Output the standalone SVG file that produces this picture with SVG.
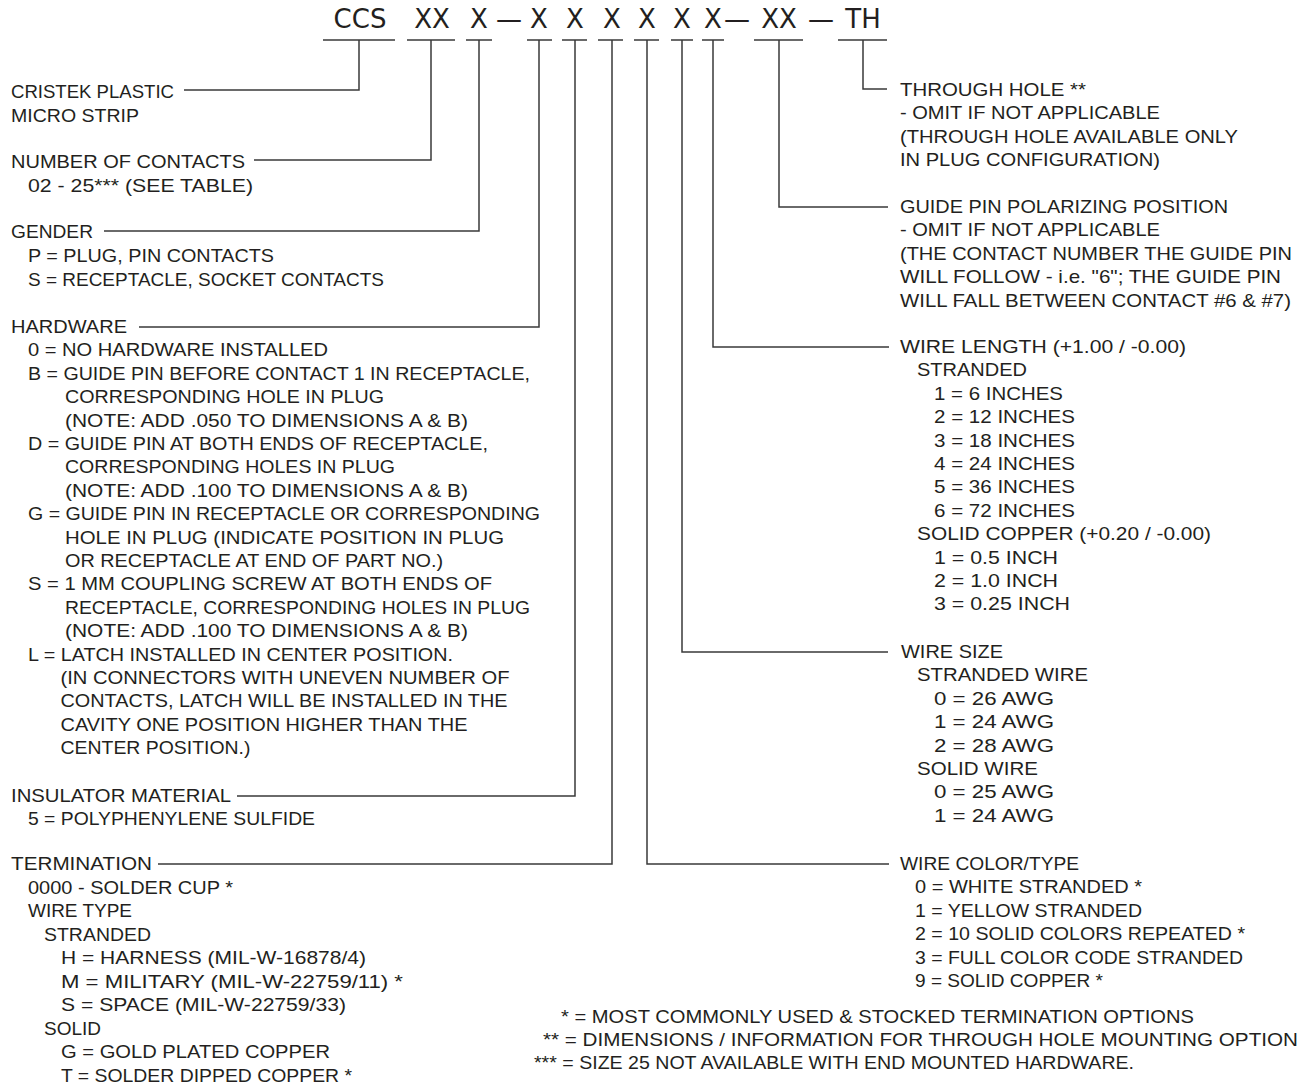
<svg xmlns="http://www.w3.org/2000/svg" width="1309" height="1087" viewBox="0 0 1309 1087">
<style>
  .t { font-family: "Liberation Sans", Arial, sans-serif; font-size: 19px; fill: #231f20; }
  .h { font-family: "DejaVu Sans", Verdana, sans-serif; font-size: 26px; fill: #231f20; text-anchor: middle; }
  .u { stroke: #3a3a3a; stroke-width: 1.5; fill: none; }
  .c { stroke: #3a3a3a; stroke-width: 1.5; fill: none; }
</style>
<rect width="1309" height="1087" fill="#ffffff"/>

<g id="part-number">
  <text class="h" x="360" y="28">CCS</text>
  <text class="h" x="432" y="28">XX</text>
  <text class="h" x="479" y="28">X</text>
  <text class="h" x="509" y="28">—</text>
  <text class="h" x="539" y="28">X</text>
  <text class="h" x="575" y="28">X</text>
  <text class="h" x="612" y="28">X</text>
  <text class="h" x="647" y="28">X</text>
  <text class="h" x="682" y="28">X</text>
  <text class="h" x="713" y="28">X</text>
  <text class="h" x="737" y="28">—</text>
  <text class="h" x="779" y="28">XX</text>
  <text class="h" x="821" y="28">—</text>
  <text class="h" x="863" y="28">TH</text>
  <path class="u" d="M323,40H395 M407,40H455 M466,40H492 M527,40H552 M562,40H587 M598,40H623 M634,40H659 M671,40H693 M702,40H724 M754,40H803 M838,40H887"/>
</g>

<g id="connectors">
  <path class="c" d="M359,40V90H184"/>
  <path class="c" d="M431,40V160H254"/>
  <path class="c" d="M479,40V231H104"/>
  <path class="c" d="M539,40V327H139"/>
  <path class="c" d="M575,40V796H237"/>
  <path class="c" d="M612,40V864H158"/>
  <path class="c" d="M647,40V864H889"/>
  <path class="c" d="M682,40V652H888"/>
  <path class="c" d="M713,40V347H889"/>
  <path class="c" d="M779,40V207H888"/>
  <path class="c" d="M863,40V89H887"/>
</g>

<g id="series" lengthAdjust="spacingAndGlyphs">
  <text class="t" x="11" y="98" textLength="163" lengthAdjust="spacingAndGlyphs">CRISTEK PLASTIC</text>
  <text class="t" x="11" y="122" textLength="128" lengthAdjust="spacingAndGlyphs">MICRO STRIP</text>
</g>

<g id="contacts">
  <text class="t" x="11" y="168" textLength="234" lengthAdjust="spacingAndGlyphs">NUMBER OF CONTACTS</text>
  <text class="t" x="28" y="192" textLength="225" lengthAdjust="spacingAndGlyphs">02 - 25*** (SEE TABLE)</text>
</g>

<g id="gender">
  <text class="t" x="11" y="238" textLength="82" lengthAdjust="spacingAndGlyphs">GENDER</text>
  <text class="t" x="28" y="262" textLength="246" lengthAdjust="spacingAndGlyphs">P = PLUG, PIN CONTACTS</text>
  <text class="t" x="28" y="286" textLength="356" lengthAdjust="spacingAndGlyphs">S = RECEPTACLE, SOCKET CONTACTS</text>
</g>

<g id="hardware">
  <text class="t" x="11" y="333" textLength="116" lengthAdjust="spacingAndGlyphs">HARDWARE</text>
  <text class="t" x="28" y="356.4" textLength="300" lengthAdjust="spacingAndGlyphs">0 = NO HARDWARE INSTALLED</text>
  <text class="t" x="28" y="379.8" textLength="502" lengthAdjust="spacingAndGlyphs">B = GUIDE PIN BEFORE CONTACT 1 IN RECEPTACLE,</text>
  <text class="t" x="65" y="403.2" textLength="319" lengthAdjust="spacingAndGlyphs">CORRESPONDING HOLE IN PLUG</text>
  <text class="t" x="65" y="426.6" textLength="403" lengthAdjust="spacingAndGlyphs">(NOTE: ADD .050 TO DIMENSIONS A &amp; B)</text>
  <text class="t" x="28" y="450" textLength="460" lengthAdjust="spacingAndGlyphs">D = GUIDE PIN AT BOTH ENDS OF RECEPTACLE,</text>
  <text class="t" x="65" y="473.4" textLength="330" lengthAdjust="spacingAndGlyphs">CORRESPONDING HOLES IN PLUG</text>
  <text class="t" x="65" y="496.8" textLength="403" lengthAdjust="spacingAndGlyphs">(NOTE: ADD .100 TO DIMENSIONS A &amp; B)</text>
  <text class="t" x="28" y="520.2" textLength="512" lengthAdjust="spacingAndGlyphs">G = GUIDE PIN IN RECEPTACLE OR CORRESPONDING</text>
  <text class="t" x="65" y="543.6" textLength="439" lengthAdjust="spacingAndGlyphs">HOLE IN PLUG  (INDICATE POSITION IN PLUG</text>
  <text class="t" x="65" y="567" textLength="378" lengthAdjust="spacingAndGlyphs">OR RECEPTACLE AT END OF PART NO.)</text>
  <text class="t" x="28" y="590.4" textLength="464" lengthAdjust="spacingAndGlyphs">S = 1 MM COUPLING SCREW AT BOTH ENDS OF</text>
  <text class="t" x="65" y="613.8" textLength="465" lengthAdjust="spacingAndGlyphs">RECEPTACLE, CORRESPONDING HOLES IN PLUG</text>
  <text class="t" x="65" y="637.2" textLength="403" lengthAdjust="spacingAndGlyphs">(NOTE: ADD .100 TO DIMENSIONS A &amp; B)</text>
  <text class="t" x="28" y="660.6" textLength="425" lengthAdjust="spacingAndGlyphs">L = LATCH INSTALLED IN CENTER POSITION.</text>
  <text class="t" x="60.5" y="684" textLength="449" lengthAdjust="spacingAndGlyphs">(IN CONNECTORS WITH UNEVEN NUMBER OF</text>
  <text class="t" x="60.5" y="707.4" textLength="447" lengthAdjust="spacingAndGlyphs">CONTACTS, LATCH WILL BE INSTALLED IN THE</text>
  <text class="t" x="60.5" y="730.8" textLength="407" lengthAdjust="spacingAndGlyphs">CAVITY ONE POSITION HIGHER THAN THE</text>
  <text class="t" x="60.5" y="754.2" textLength="190" lengthAdjust="spacingAndGlyphs">CENTER POSITION.)</text>
</g>

<g id="insulator">
  <text class="t" x="11" y="802" textLength="220" lengthAdjust="spacingAndGlyphs">INSULATOR MATERIAL</text>
  <text class="t" x="28" y="825.4" textLength="287" lengthAdjust="spacingAndGlyphs">5 = POLYPHENYLENE SULFIDE</text>
</g>

<g id="termination">
  <text class="t" x="11" y="870" textLength="141" lengthAdjust="spacingAndGlyphs">TERMINATION</text>
  <text class="t" x="28" y="893.5" textLength="205" lengthAdjust="spacingAndGlyphs">0000 - SOLDER CUP *</text>
  <text class="t" x="28" y="917" textLength="104" lengthAdjust="spacingAndGlyphs">WIRE TYPE</text>
  <text class="t" x="44" y="940.5" textLength="107" lengthAdjust="spacingAndGlyphs">STRANDED</text>
  <text class="t" x="61" y="964" textLength="305" lengthAdjust="spacingAndGlyphs">H = HARNESS (MIL-W-16878/4)</text>
  <text class="t" x="61" y="987.5" textLength="342" lengthAdjust="spacingAndGlyphs">M = MILITARY (MIL-W-22759/11) *</text>
  <text class="t" x="61" y="1011" textLength="285" lengthAdjust="spacingAndGlyphs">S = SPACE (MIL-W-22759/33)</text>
  <text class="t" x="44" y="1034.5" textLength="57" lengthAdjust="spacingAndGlyphs">SOLID</text>
  <text class="t" x="61" y="1058" textLength="269" lengthAdjust="spacingAndGlyphs">G = GOLD PLATED COPPER</text>
  <text class="t" x="61" y="1081.5" textLength="291" lengthAdjust="spacingAndGlyphs">T = SOLDER DIPPED COPPER *</text>
</g>

<g id="through-hole">
  <text class="t" x="900" y="96" textLength="186" lengthAdjust="spacingAndGlyphs">THROUGH HOLE **</text>
  <text class="t" x="900" y="119.4" textLength="260" lengthAdjust="spacingAndGlyphs">- OMIT IF NOT APPLICABLE</text>
  <text class="t" x="900" y="142.8" textLength="338" lengthAdjust="spacingAndGlyphs">(THROUGH HOLE AVAILABLE ONLY</text>
  <text class="t" x="900" y="166.2" textLength="260" lengthAdjust="spacingAndGlyphs">IN PLUG CONFIGURATION)</text>
</g>

<g id="guide-pin">
  <text class="t" x="900" y="213" textLength="328" lengthAdjust="spacingAndGlyphs">GUIDE PIN POLARIZING POSITION</text>
  <text class="t" x="900" y="236.4" textLength="260" lengthAdjust="spacingAndGlyphs">- OMIT IF NOT APPLICABLE</text>
  <text class="t" x="900" y="259.8" textLength="392" lengthAdjust="spacingAndGlyphs">(THE CONTACT NUMBER THE GUIDE PIN</text>
  <text class="t" x="900" y="283.2" textLength="381" lengthAdjust="spacingAndGlyphs">WILL FOLLOW - i.e. "6"; THE GUIDE PIN</text>
  <text class="t" x="900" y="306.6" textLength="391" lengthAdjust="spacingAndGlyphs">WILL FALL BETWEEN CONTACT #6 &amp; #7)</text>
</g>

<g id="wire-length">
  <text class="t" x="900" y="353" textLength="286" lengthAdjust="spacingAndGlyphs">WIRE LENGTH (+1.00 / -0.00)</text>
  <text class="t" x="917" y="376.4" textLength="110" lengthAdjust="spacingAndGlyphs">STRANDED</text>
  <text class="t" x="934" y="399.8" textLength="129" lengthAdjust="spacingAndGlyphs">1 = 6 INCHES</text>
  <text class="t" x="934" y="423.2" textLength="141" lengthAdjust="spacingAndGlyphs">2 = 12 INCHES</text>
  <text class="t" x="934" y="446.6" textLength="141" lengthAdjust="spacingAndGlyphs">3 = 18 INCHES</text>
  <text class="t" x="934" y="470" textLength="141" lengthAdjust="spacingAndGlyphs">4 = 24 INCHES</text>
  <text class="t" x="934" y="493.4" textLength="141" lengthAdjust="spacingAndGlyphs">5 = 36 INCHES</text>
  <text class="t" x="934" y="516.8" textLength="141" lengthAdjust="spacingAndGlyphs">6 = 72 INCHES</text>
  <text class="t" x="917" y="540.2" textLength="294" lengthAdjust="spacingAndGlyphs">SOLID COPPER (+0.20 / -0.00)</text>
  <text class="t" x="934" y="563.6" textLength="124" lengthAdjust="spacingAndGlyphs">1 = 0.5 INCH</text>
  <text class="t" x="934" y="587" textLength="124" lengthAdjust="spacingAndGlyphs">2 = 1.0 INCH</text>
  <text class="t" x="934" y="610.4" textLength="136" lengthAdjust="spacingAndGlyphs">3 = 0.25 INCH</text>
</g>

<g id="wire-size">
  <text class="t" x="901" y="658" textLength="102" lengthAdjust="spacingAndGlyphs">WIRE SIZE</text>
  <text class="t" x="917" y="681.4" textLength="171" lengthAdjust="spacingAndGlyphs">STRANDED WIRE</text>
  <text class="t" x="934" y="704.8" textLength="120" lengthAdjust="spacingAndGlyphs">0 = 26 AWG</text>
  <text class="t" x="934" y="728.2" textLength="120" lengthAdjust="spacingAndGlyphs">1 = 24 AWG</text>
  <text class="t" x="934" y="751.6" textLength="120" lengthAdjust="spacingAndGlyphs">2 = 28 AWG</text>
  <text class="t" x="917" y="775" textLength="121" lengthAdjust="spacingAndGlyphs">SOLID WIRE</text>
  <text class="t" x="934" y="798.4" textLength="120" lengthAdjust="spacingAndGlyphs">0 = 25 AWG</text>
  <text class="t" x="934" y="821.8" textLength="120" lengthAdjust="spacingAndGlyphs">1 = 24 AWG</text>
</g>

<g id="wire-color">
  <text class="t" x="900" y="870" textLength="179" lengthAdjust="spacingAndGlyphs">WIRE COLOR/TYPE</text>
  <text class="t" x="915" y="893.4" textLength="227" lengthAdjust="spacingAndGlyphs">0 = WHITE STRANDED *</text>
  <text class="t" x="915" y="916.8" textLength="227" lengthAdjust="spacingAndGlyphs">1 = YELLOW STRANDED</text>
  <text class="t" x="915" y="940.2" textLength="330" lengthAdjust="spacingAndGlyphs">2 = 10 SOLID COLORS REPEATED *</text>
  <text class="t" x="915" y="963.6" textLength="328" lengthAdjust="spacingAndGlyphs">3 = FULL COLOR CODE STRANDED</text>
  <text class="t" x="915" y="987" textLength="188" lengthAdjust="spacingAndGlyphs">9 = SOLID COPPER *</text>
</g>

<g id="footnotes">
  <text class="t" x="561" y="1023" textLength="633" lengthAdjust="spacingAndGlyphs">* = MOST COMMONLY USED &amp; STOCKED TERMINATION OPTIONS</text>
  <text class="t" x="543" y="1046" textLength="755" lengthAdjust="spacingAndGlyphs">** = DIMENSIONS / INFORMATION FOR THROUGH HOLE MOUNTING OPTION</text>
  <text class="t" x="534" y="1069" textLength="600" lengthAdjust="spacingAndGlyphs">*** = SIZE 25 NOT AVAILABLE WITH END MOUNTED HARDWARE.</text>
</g>
</svg>
